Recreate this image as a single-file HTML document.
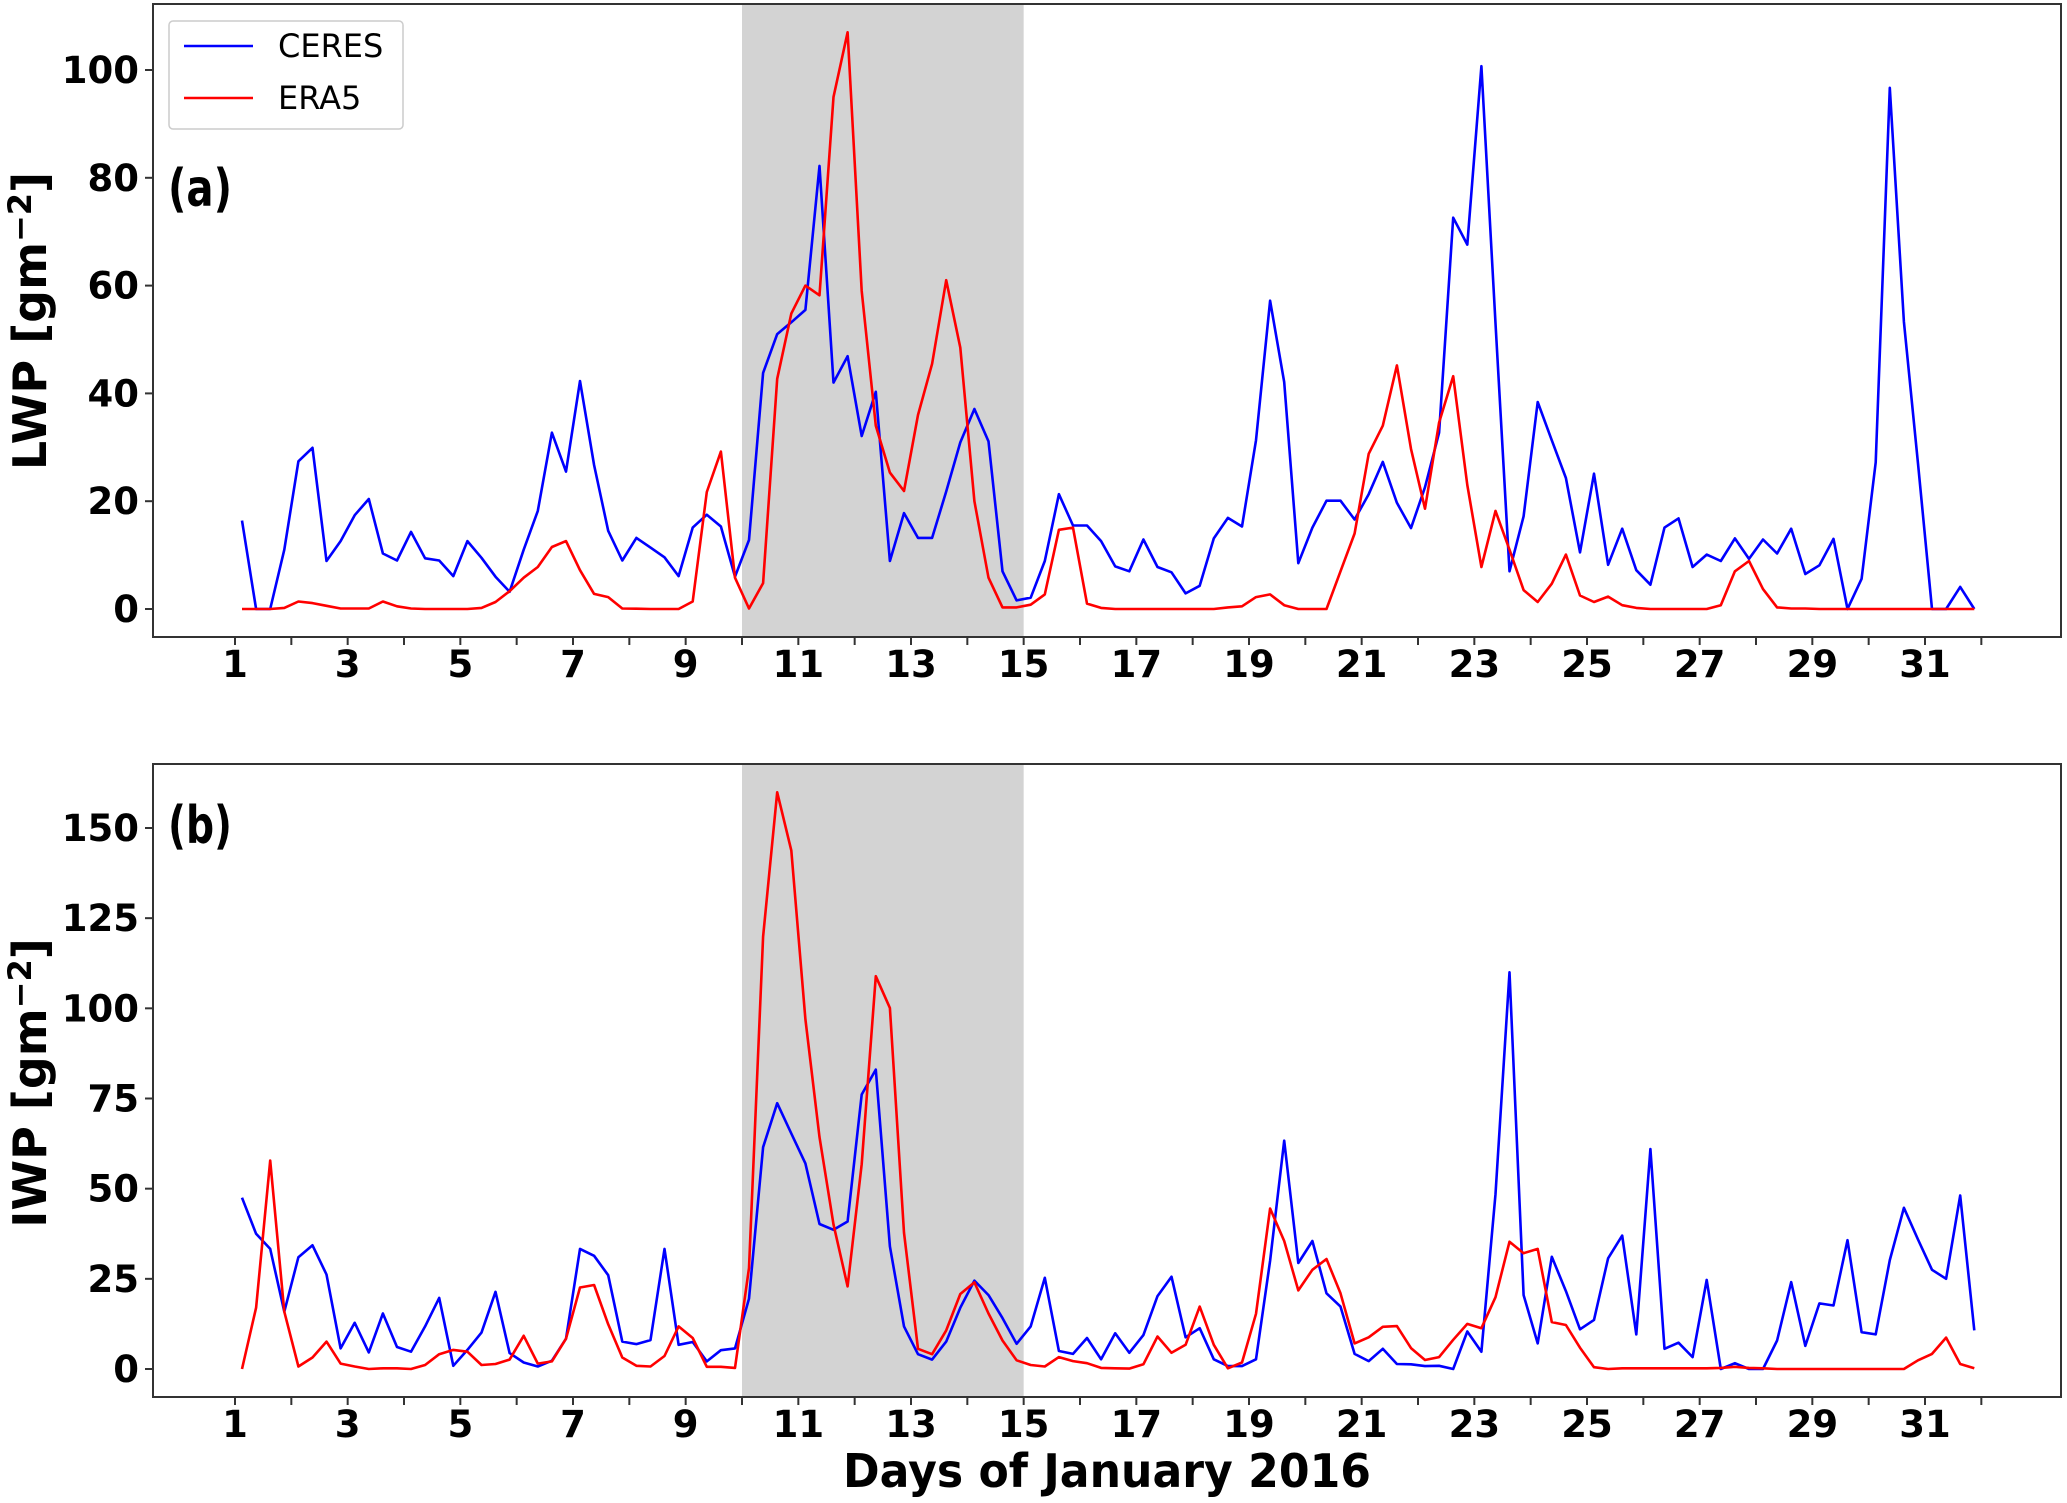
<!DOCTYPE html>
<html><head><meta charset="utf-8">
<style>
html,body{margin:0;padding:0;background:#fff;}
svg{display:block;font-family:"DejaVu Sans","Liberation Sans",sans-serif;}
</style></head>
<body>
<svg id="chart" width="2067" height="1503" viewBox="0 0 2067 1503" xmlns="http://www.w3.org/2000/svg"></svg>
<script>
const lwpCeres=[16.4,0,0,11,27.4,29.9,8.9,12.6,17.4,20.4,10.3,9,14.3,9.4,9,6.1,12.6,9.5,6,3.2,11,18.2,32.7,25.5,42.3,26.7,14.5,9,13.2,11.4,9.6,6.1,15.1,17.5,15.3,6,12.8,43.8,51,53.2,55.5,82.2,42,46.9,32.1,40.3,8.9,17.8,13.2,13.2,21.8,30.9,37.1,31.1,7,1.6,2.1,8.9,21.3,15.5,15.5,12.6,7.9,7,12.9,7.8,6.8,2.9,4.3,13.1,16.9,15.3,31.3,57.2,42.1,8.5,15.1,20.1,20.1,16.6,21.3,27.3,19.7,15,22.6,32.7,72.6,67.6,100.7,53,7,17.2,38.4,31.3,24.3,10.5,25.1,8.2,14.9,7.2,4.5,15.1,16.8,7.8,10.1,8.9,13.1,9.3,12.9,10.3,14.9,6.5,8.1,13,0,5.6,27.2,96.7,53.3,27,0,0,4.1,0];
const lwpEra5=[0,0,0,0.2,1.4,1.1,0.6,0.1,0.1,0.1,1.4,0.5,0.1,0,0,0,0,0.2,1.3,3.3,5.8,7.8,11.5,12.6,7.2,2.8,2.2,0.1,0.05,0,0,0,1.4,21.7,29.2,5.8,0.1,4.8,42.7,54.8,60,58.2,95,107,59,34,25.3,21.9,36,45.5,61,48.5,20,5.8,0.3,0.3,0.8,2.7,14.7,15.1,1,0.2,0,0,0,0,0,0,0,0,0.3,0.5,2.2,2.7,0.7,0,0,0,7,14,28.8,34,45.2,29.7,18.6,34.6,43.2,23,7.8,18.2,11,3.5,1.3,4.7,10.1,2.5,1.3,2.3,0.7,0.2,0,0,0,0,0,0.7,7,8.9,3.7,0.3,0.1,0.1,0,0,0,0,0,0,0,0,0,0,0,0];
const iwpCeres=[47.5,37.5,33.3,15.9,31,34.3,26.2,5.7,12.8,4.6,15.4,6.1,4.8,11.8,19.7,0.9,5.3,10.1,21.4,4.4,1.8,0.7,2.3,8.4,33.3,31.4,26,7.6,6.9,8,33.3,6.7,7.5,2.1,5.2,5.7,19.5,61.5,73.7,65.3,57,40.2,38.6,40.9,76.1,83,34,11.8,4.1,2.6,7.6,17,24.5,20.5,14.1,7,11.8,25.3,5,4.2,8.6,2.7,9.9,4.5,9.4,20.2,25.6,8.8,11.3,2.7,0.8,0.8,2.7,30,63.3,29.4,35.5,21,17.3,4.2,2.2,5.6,1.4,1.3,0.8,0.9,0,10.4,4.8,48.5,110,20.5,7.1,31.1,21.6,11,13.6,30.7,37,9.6,61,5.6,7.3,3.3,24.7,0,1.6,0,0,7.9,24.1,6.4,18.2,17.6,35.7,10.2,9.6,30.2,44.7,35.9,27.5,25,48.1,10.7];
const iwpEra5=[0,17,57.8,15.9,0.7,3.2,7.6,1.5,0.7,0,0.2,0.2,0,1.1,4.1,5.3,4.8,1.1,1.4,2.6,9.2,1.5,2.1,8.4,22.6,23.3,12.4,3.2,0.9,0.7,3.6,11.8,8.6,0.6,0.6,0.3,28,119.9,159.9,143.8,97,64.3,40.1,22.9,56.8,108.9,100.1,37.8,5.6,4.1,10.7,20.8,24,15.4,7.9,2.4,1.1,0.7,3.3,2.2,1.6,0.3,0.2,0.1,1.3,9,4.5,6.7,17.3,6.7,0.2,1.8,15.3,44.5,35.5,21.8,27.5,30.5,21,7.1,8.8,11.7,11.9,5.8,2.5,3.3,8.1,12.5,11.3,19.9,35.3,32.1,33.3,13,12.2,5.9,0.5,0,0.2,0.2,0.2,0.2,0.2,0.2,0.2,0.3,0.6,0.3,0.2,0,0,0,0,0,0,0,0,0,0,2.4,4.2,8.7,1.4,0.2];
const xTickDays=[1,3,5,7,9,11,13,15,17,19,21,23,25,27,29,31];
const lwpTicks=[0,20,40,60,80,100];
const iwpTicks=[0,25,50,75,100,125,150];
const shadeDays=[10,15];
const seriesNames=["CERES","ERA5"];

const NS="http://www.w3.org/2000/svg";
const svg=document.getElementById('chart');
function mk(tag,attrs,parent){const e=document.createElementNS(NS,tag);for(const k in attrs)e.setAttribute(k,attrs[k]);(parent||svg).appendChild(e);return e;}
const X0=153,X1=2061;
function xs(d){return 235+(d-1)*(1925-235)/30;}
function timeOf(i){return 1.125+i*0.25;}

function panel(cfg){
  const g=mk('g',{});
  
  
  const ys=v=>cfg.y0+(cfg.yRef-cfg.y0)*v/cfg.vRef;
  const sh=mk('rect',{x:xs(shadeDays[0]),y:cfg.top,width:xs(shadeDays[1])-xs(shadeDays[0]),height:cfg.bottom-cfg.top,fill:'#d3d3d3'},g);
  
  
  const cols={CERES:'#0000ff',ERA5:'#ff0000'};
  [[cfg.ceres,'CERES'],[cfg.era,'ERA5']].forEach(([arr,nm])=>{
    const pts=arr.map((v,i)=>xs(timeOf(i)).toFixed(1)+','+ys(v).toFixed(1)).join(' ');
    const pl=mk('polyline',{points:pts,fill:'none',stroke:cols[nm],'stroke-width':2.6,'stroke-linejoin':'round'},g);
    
    
  });
  const fr=mk('rect',{x:X0,y:cfg.top,width:X1-X0,height:cfg.bottom-cfg.top,fill:'none',stroke:'#333','stroke-width':2},g);
  
  
  for(let d=1;d<=32;d++){mk('line',{x1:xs(d),x2:xs(d),y1:cfg.bottom,y2:cfg.bottom+8,stroke:'#333','stroke-width':2},g);}
  xTickDays.forEach(d=>{
    const t=mk('text',{x:xs(d),y:cfg.bottom+40,'text-anchor':'middle','font-size':37,'font-weight':'bold'},g);
    t.textContent=d;
    
    
  });
  cfg.ticks.forEach(v=>{
    const y=ys(v);
    mk('line',{x1:X0-8,x2:X0,y1:y,y2:y,stroke:'#333','stroke-width':2},g);
    const t=mk('text',{x:139,y:y+13,'text-anchor':'end','font-size':37,'font-weight':'bold'},g);
    t.textContent=v;
    
    
  });
  const yt=mk('text',{x:0,y:0,'text-anchor':'middle','font-size':46,'font-weight':'bold',transform:`translate(46,${cfg.titleY}) rotate(-90)`},g);
  yt.innerHTML=cfg.title+' [gm<tspan dy="-15" font-size="32">\u22122</tspan><tspan dy="15">]</tspan>';
  
  
  const pl=mk('text',{x:168,y:cfg.labelY+19,'font-size':52,'font-weight':'bold',textLength:64,lengthAdjust:'spacingAndGlyphs'},g);
  pl.textContent=cfg.label;
  
  
}
panel({name:'panel-a-lwp',top:4,bottom:637,y0:609,yRef:70,vRef:100,ceres:lwpCeres,era:lwpEra5,ticks:lwpTicks,title:'LWP',titleY:321,label:'(a)',labelY:187});
panel({name:'panel-b-iwp',top:764,bottom:1397,y0:1369,yRef:828,vRef:150,ceres:iwpCeres,era:iwpEra5,ticks:iwpTicks,title:'IWP',titleY:1083,label:'(b)',labelY:824});

const xl=mk('text',{x:1107,y:1487,'text-anchor':'middle','font-size':46,'font-weight':'bold',textLength:528,lengthAdjust:'spacingAndGlyphs'});
xl.textContent='Days of January 2016';



const lg=mk('g',{});


mk('rect',{x:169,y:21,width:234,height:108,rx:4,fill:'#fff','fill-opacity':0.85,stroke:'#ccc','stroke-width':1.5},lg);
[['CERES','#0000ff',46],['ERA5','#ff0000',98]].forEach(([nm,c,y])=>{
  const e=mk('g',{},lg);
  
  
  mk('line',{x1:184,x2:253,y1:y,y2:y,stroke:c,'stroke-width':2.6},e);
  const t=mk('text',{x:278,y:y+11,'font-size':32},e);
  t.textContent=nm;
});
</script>
</body></html>
